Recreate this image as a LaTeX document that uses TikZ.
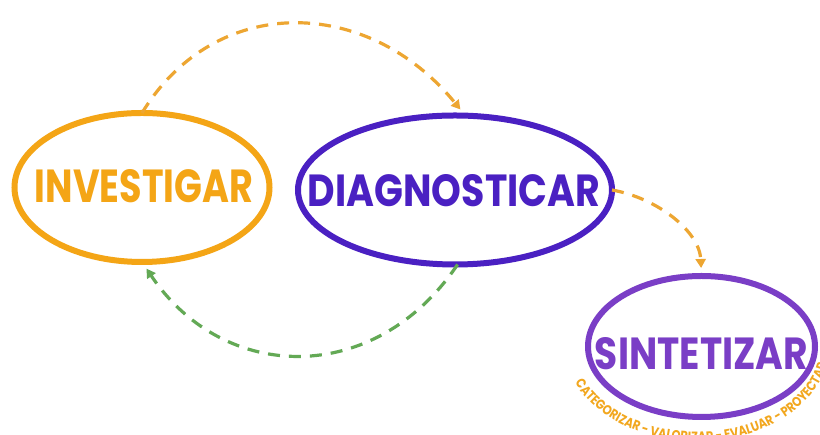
\documentclass[tikz,border=0pt]{standalone}
\usepackage{fontspec}
\usepackage{graphicx}
\usetikzlibrary{shapes.geometric,arrows.meta,decorations.text}
\newfontfamily\labfont{Poppins}[FakeStretch=0.75]
\newfontfamily\smallfont{Poppins}[FakeStretch=0.85]
\definecolor{invc}{HTML}{F4A516}
\definecolor{diagc}{HTML}{4A20C2}
\definecolor{sintc}{HTML}{7A3EC6}
\definecolor{arrc}{HTML}{EDA632}
\definecolor{backc}{HTML}{63A955}
\definecolor{subc}{HTML}{F2A71E}
\begin{document}
\begin{tikzpicture}[x=1pt,y=1pt,
  bubble/.style={ellipse, line width=6pt, inner sep=0pt, outer sep=0pt},
  flow/.style={line width=3.2pt, dash pattern=on 12pt off 9pt, -{Triangle[length=9pt,width=10pt]}},
  lbl/.style={inner sep=0pt}]
\path[use as bounding box, clip] (0,0) rectangle (820,435);
\fill[white] (0,0) rectangle (820,435);
\node[bubble, draw=invc, minimum width=255pt, minimum height=149pt] (inv) at (142,247.5) {};
\node[bubble, draw=diagc, minimum width=314pt, minimum height=149pt] (diag) at (455,245) {};
\node[bubble, draw=sintc, minimum width=227pt, minimum height=141pt] (sint) at (701.5,88.5) {};
\node[lbl, text=invc] (tinv) at (144,248.5) {\resizebox{218pt}{33pt}{\labfont\bfseries INVESTIGAR}};
\node[lbl, text=diagc] (tdiag) at (454,244) {\resizebox{292pt}{32pt}{\labfont\bfseries DIAGNOSTICAR}};
\node[lbl, text=sintc] (tsint) at (701.5,81) {\resizebox{213pt}{32pt}{\labfont\bfseries SINTETIZAR}};
\draw[flow, arrc, shorten >=8pt] (inv.north) .. controls +(73,120) and +(-98,120) .. (diag.82);
\draw[flow, backc, shorten >=8pt] (diag.-88) .. controls +(-82,-122) and +(82,-122) .. (inv.south);
\draw[flow, arrc, shorten >=8pt] (diag.east) .. controls +(45,-8) and +(-2,45) .. (sint.north);
\path[decorate, decoration={text along path, text={|\smallfont\bfseries\fontsize{13.5}{13.5}\selectfont\color{subc}|CATEGORIZAR - VALORIZAR - EVALUAR - PROYECTAR}}]
  (697,90) ++(203:132.5 and 96.5) arc[start angle=203, end angle=400, x radius=132.5, y radius=96.5];
\end{tikzpicture}
\end{document}
